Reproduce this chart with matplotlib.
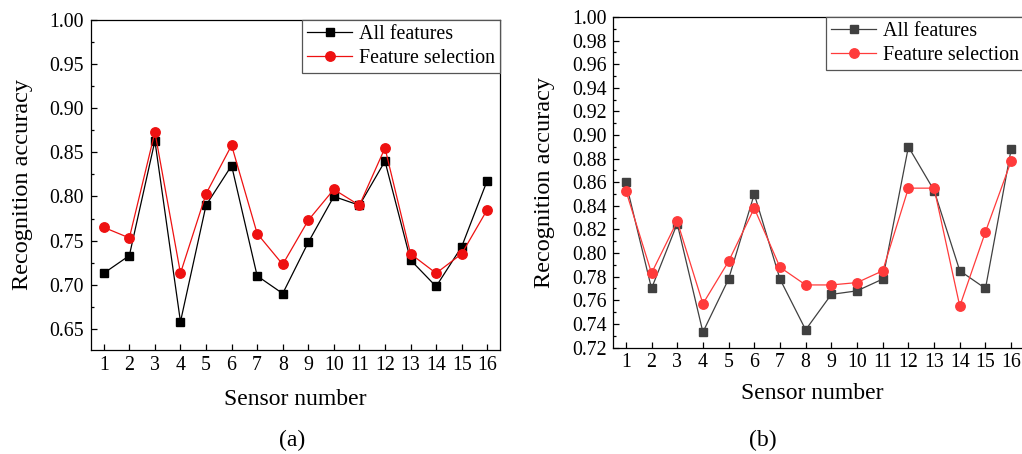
import matplotlib
matplotlib.use("Agg")
import matplotlib.pyplot as plt
from matplotlib.ticker import MultipleLocator

plt.rcParams['font.family'] = ['Liberation Serif', 'DejaVu Serif']
plt.rcParams['mathtext.fontset'] = 'stix'

sensors = list(range(1, 17))

# Panel (a)
a_all = [0.713, 0.733, 0.863, 0.658, 0.790, 0.835, 0.710, 0.690,
         0.748, 0.800, 0.790, 0.840, 0.728, 0.698, 0.743, 0.818]
a_sel = [0.765, 0.753, 0.873, 0.713, 0.803, 0.858, 0.758, 0.723,
         0.773, 0.808, 0.790, 0.855, 0.735, 0.713, 0.735, 0.785]

# Panel (b)
b_all = [0.860, 0.770, 0.825, 0.733, 0.778, 0.850, 0.778, 0.735,
         0.765, 0.768, 0.778, 0.890, 0.853, 0.785, 0.770, 0.888]
b_sel = [0.853, 0.783, 0.827, 0.757, 0.793, 0.838, 0.788, 0.773,
         0.773, 0.775, 0.785, 0.855, 0.855, 0.755, 0.818, 0.878]

series_labels = ["All features", "Feature selection"]
xlabel = "Sensor number"
ylabel = "Recognition accuracy"
panel_tags = ["(a)", "(b)"]

W, H = 1022, 454
fig = plt.figure(figsize=(W / 100, H / 100), dpi=100)


def frac(l, t, r, b):
    return [l / W, (H - b) / H, (r - l) / W, (b - t) / H]


ax1 = fig.add_axes(frac(91, 20, 500, 350))
ax2 = fig.add_axes(frac(613, 17, 1024, 347.5))


def style(ax, ylim, major, minor, tick_fs, ypad, c_all, c_sel, yall, ysel):
    ax.plot(sensors, yall, color=c_all, lw=0.9, marker='s', ms=5.5,
            mec=c_all, mfc=c_all, label=series_labels[0])
    ax.plot(sensors, ysel, color=c_sel, lw=0.9, marker='o', ms=6.8,
            mec=c_sel, mfc=c_sel, label=series_labels[1])
    ax.set_xlim(0.5, 16.5)
    ax.set_ylim(*ylim)
    ax.set_xticks(sensors)
    ax.yaxis.set_major_locator(MultipleLocator(major))
    ax.yaxis.set_minor_locator(MultipleLocator(minor))
    ax.yaxis.set_major_formatter(matplotlib.ticker.FormatStrFormatter('%.2f'))
    ax.tick_params(axis='both', which='major', direction='in', length=4.5,
                   width=0.9, labelsize=tick_fs)
    ax.tick_params(axis='y', which='minor', direction='in', length=2.5, width=0.9)
    ax.tick_params(axis='y', which='major', pad=ypad)
    ax.tick_params(axis='x', which='major', pad=4)
    for s in ax.spines.values():
        s.set_linewidth(0.9)
    leg = ax.legend(loc='upper right', fontsize=14.4, frameon=True, fancybox=False,
                    borderaxespad=0, handlelength=2.25, handletextpad=0.35,
                    labelspacing=0.25, borderpad=0.25, framealpha=1)
    leg.get_frame().set_edgecolor('#555555')
    leg.get_frame().set_linewidth(0.9)


style(ax1, (0.626, 1.00), 0.05, 0.025, 14.3, 5.3, 'black', '#ee1111', a_all, a_sel)
style(ax2, (0.72, 1.00), 0.02, 0.01, 14.3, 4.3, '#404040', '#ff3b3b', b_all, b_sel)

for ax, xl, yl, xc in [(ax1, -0.1515, -0.1687, 0.5),
                       (ax2, -0.139, -0.1655, 0.485)]:
    ax.set_xlabel(xlabel, fontsize=17)
    ax.xaxis.label.set_va('center')
    ax.xaxis.set_label_coords(xc, xl)
    ax.set_ylabel(ylabel, fontsize=17.5)
    ax.yaxis.label.set_va('center')
    ax.yaxis.set_label_coords(yl, 0.5)

fig.text(292 / W, 1 - 440 / H, panel_tags[0], fontsize=17, ha='center', va='center')
fig.text(763 / W, 1 - 440 / H, panel_tags[1], fontsize=17, ha='center', va='center')

fig.savefig("out.png", dpi=100)
